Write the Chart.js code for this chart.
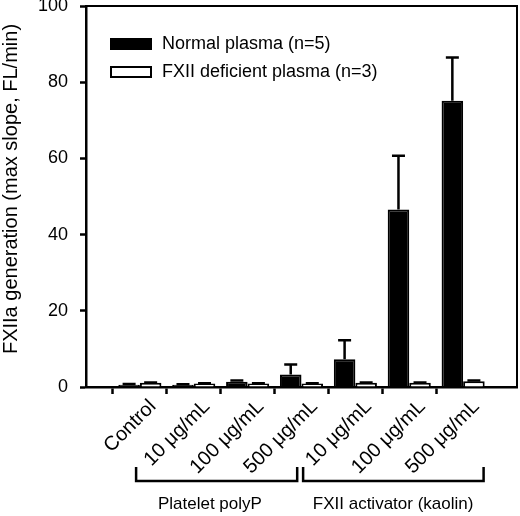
<!DOCTYPE html>
<html lang="en">
<head>
<meta charset="UTF-8">
<title>FXIIa generation</title>
<style>
  html, body { margin: 0; padding: 0; background: #fff; }
  #wrap { width: 520px; height: 516px; }
</style>
</head>
<body>
<div id="wrap"><canvas id="chart"></canvas></div>
<script src="https://cdn.jsdelivr.net/npm/chart.js"></script>
<script>
// values
const categories = ['Control', '10 μg/mL', '100 μg/mL', '500 μg/mL', '10 μg/mL', '100 μg/mL', '500 μg/mL'];
const normalMean = [0.6, 0.6, 1.4, 3.3, 7.3, 46.6, 75.1];
const normalErr = [0.2, 0.1, 0.3, 2.6, 5.0, 14.1, 11.4];
const deficientMean = [1.1, 0.9, 0.9, 0.9, 1.1, 1.1, 1.5];
const deficientErr = [0.1, 0.1, 0.1, 0.1, 0.1, 0.1, 0.2];
const yTicks = [0, 20, 40, 60, 80, 100];
const yTitle = 'FXIIa generation (max slope, FL/min)';
const groupLabels = ['Platelet polyP', 'FXII activator (kaolin)'];

const FONT = "'Liberation Sans', Arial, sans-serif";

// one blank slot on each side so the bars sit at 1..7 of 0..8
const labels = ['', ...categories, ''];
const pad = arr => [null, ...arr, null];

// error bars (upper whisker only)
const errorBars = {
  id: 'errorBars',
  afterDatasetsDraw(chart) {
    const ctx = chart.ctx;
    const y = chart.scales.y;
    ctx.save();
    ctx.strokeStyle = '#000';
    ctx.lineWidth = 2.5;
    chart.data.datasets.forEach((ds, i) => {
      const meta = chart.getDatasetMeta(i);
      meta.data.forEach((bar, j) => {
        const v = ds.data[j];
        if (v == null) return;
        const top = y.getPixelForValue(v + ds.errors[j]);
        ctx.beginPath();
        ctx.moveTo(bar.x, bar.y);
        ctx.lineTo(bar.x, top);
        ctx.moveTo(bar.x - 6.5, top);
        ctx.lineTo(bar.x + 6.5, top);
        ctx.stroke();
      });
    });
    ctx.restore();
  }
};

// top/right frame, y title, legend, group brackets
const extras = {
  id: 'extras',
  afterDraw(chart) {
    const ctx = chart.ctx;
    const a = chart.chartArea;
    const x = chart.scales.x;
    ctx.save();
    ctx.strokeStyle = '#000';
    ctx.lineWidth = 2;
    ctx.beginPath();
    ctx.moveTo(a.left, a.top);
    ctx.lineTo(a.right, a.top);
    ctx.lineTo(a.right, a.bottom);
    ctx.stroke();

    // y axis title (sits a little above the axis centre in the original)
    ctx.save();
    ctx.fillStyle = '#000';
    ctx.font = '20px ' + FONT;
    ctx.textAlign = 'center';
    ctx.textBaseline = 'alphabetic';
    ctx.translate(17, 189);
    ctx.rotate(-Math.PI / 2);
    ctx.fillText(yTitle, 0, 0);
    ctx.restore();

    // legend
    ctx.font = '18px ' + FONT;
    ctx.textBaseline = 'middle';
    ctx.textAlign = 'left';
    chart.data.datasets.forEach((ds, i) => {
      const bx = a.left + 24, by = a.top + 32 + i * 28;
      ctx.fillStyle = ds.backgroundColor;
      ctx.fillRect(bx, by, 42, 12);
      ctx.lineWidth = 2;
      ctx.strokeRect(bx + 1, by + 1, 40, 10);
      ctx.fillStyle = '#000';
      ctx.fillText(ds.label, bx + 52, by + 6);
    });

    // brackets under the tick labels: [start, end, text centre] in axis units
    const spans = [[0.93, 3.92, 2.3], [4.03, 7.38, 5.7]];
    ctx.lineWidth = 2.5;
    ctx.font = '17px ' + FONT;
    ctx.textAlign = 'center';
    spans.forEach((s, i) => {
      const x0 = x.getPixelForValue(s[0]);
      const x1 = x.getPixelForValue(s[1]);
      ctx.beginPath();
      ctx.moveTo(x0, 467);
      ctx.lineTo(x0, 481);
      ctx.lineTo(x1, 481);
      ctx.lineTo(x1, 467);
      ctx.stroke();
      ctx.fillText(groupLabels[i], x.getPixelForValue(s[2]), 504);
    });
    ctx.restore();
  }
};

new Chart(document.getElementById('chart'), {
  type: 'bar',
  data: {
    labels: labels,
    datasets: [
      {
        label: 'Normal plasma (n=5)',
        data: pad(normalMean),
        errors: pad(normalErr),
        backgroundColor: '#000',
        borderColor: '#000',
        borderWidth: 2
      },
      {
        label: 'FXII deficient plasma (n=3)',
        data: pad(deficientMean),
        errors: pad(deficientErr),
        backgroundColor: '#fff',
        borderColor: '#000',
        borderWidth: 2
      }
    ]
  },
  options: {
    responsive: true,
    maintainAspectRatio: false,
    animation: false,
    layout: { padding: { top: 6, right: 3, left: 0, bottom: 0 } },
    datasets: { bar: { categoryPercentage: 0.8, barPercentage: 1.0 } },
    plugins: { legend: { display: false }, tooltip: { enabled: false } },
    scales: {
      x: {
        offset: false,
        afterFit: s => { s.height = 129; s.paddingLeft = 0; s.paddingRight = 0; },
        border: { display: true, color: '#000', width: 2.5 },
        grid: {
          drawOnChartArea: false,
          drawTicks: true,
          tickLength: 7,
          tickWidth: 2.5,
          tickColor: c => (labels[c.index] ? '#000' : 'rgba(0,0,0,0)')
        },
        ticks: {
          color: '#000',
          font: { family: FONT, size: 20 },
          minRotation: 45,
          maxRotation: 45,
          autoSkip: false,
          padding: 1,
          labelOffset: 13
        }
      },
      y: {
        min: 0,
        max: 100,
        afterBuildTicks: s => { s.ticks = yTicks.map(v => ({ value: v })); },
        afterFit: s => { s.width = 86; s.paddingTop = 0; s.paddingBottom = 0; },
        border: { display: true, color: '#000', width: 2.5 },
        grid: { drawOnChartArea: false, drawTicks: true, tickLength: 6, tickWidth: 2.5, tickColor: '#000' },
        ticks: { color: '#000', font: { family: FONT, size: 18 }, padding: 12 },
        title: { display: false }
      }
    }
  },
  plugins: [errorBars, extras]
});
</script>
</body>
</html>
